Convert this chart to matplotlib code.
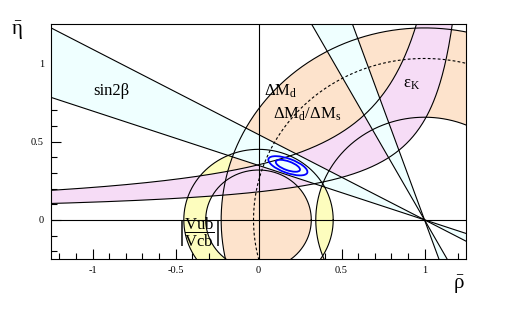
import numpy as np
import matplotlib
matplotlib.use("Agg")
import matplotlib.pyplot as plt
from matplotlib.patches import Wedge, Polygon, Ellipse

# ---------------- data ----------------
rho_range = [-1.25, 1.25]
eta_range = [-0.25, 1.25]
x_major = [-1, -0.5, 0, 0.5, 1]
x_labels = ["-1", "-0.5", "0", "0.5", "1"]
y_major = [0, 0.5, 1]
y_labels = ["0", "0.5", "1"]

sin2beta_band = [0.62, 0.84]          # sin(2 beta) interval
dmd_radii = [0.655, 1.225]            # Delta M_d band, circles around (1,0)
dmd_dms_radius = 1.03                 # Delta M_d / Delta M_s bound (dashed)
vub_radii = [0.318, 0.45]             # |Vub/Vcb| band, circles around (0,0)
epsk_lower = [1.335, 0.205, 0.025]    # eta = k/(a-rho)+c  : a, k, c
epsk_upper = [1.305, 0.435, 0.018]

contour_center = [0.177, 0.345]
contour_axes_95 = [0.25, 0.09]        # full widths (rho-eta units)
contour_axes_68 = [0.155, 0.056]
contour_angle = -21.0

# ---------------- colours ----------------
c_cyan = "#EFFFFF"
c_pink = "#F6DCF6"
c_peach = "#FDE3CC"
c_yellow = "#FDFDBE"

plt.rcParams["mathtext.fontset"] = "custom"
plt.rcParams["mathtext.rm"] = "Liberation Serif"
plt.rcParams["mathtext.it"] = "Liberation Serif:italic"
plt.rcParams["mathtext.bf"] = "Liberation Serif:bold"
serif = ["Liberation Serif", "DejaVu Serif"]

fig = plt.figure(figsize=(5.15, 3.10), dpi=100)
ax = fig.add_axes([51/515, 51/310, 415/515, 235/310])
ax.set_xlim(*rho_range)
ax.set_ylim(*eta_range)

lw = 0.8

# yellow |Vub/Vcb| annulus
ax.add_patch(Wedge((0, 0), vub_radii[1], 0, 360, width=vub_radii[1]-vub_radii[0],
                   facecolor=c_yellow, edgecolor="none", zorder=1))
# peach Delta M_d annulus
dmd_patch = Wedge((1, 0), dmd_radii[1], 0, 360, width=dmd_radii[1]-dmd_radii[0],
                  facecolor=c_peach, edgecolor="none", zorder=2)
ax.add_patch(dmd_patch)
# white overlap on the lower right
wp = Wedge((0, 0), vub_radii[1], -70, 45, width=vub_radii[1]-vub_radii[0],
           facecolor="white", edgecolor="none", zorder=3)
ax.add_patch(wp)
wp.set_clip_path(dmd_patch)

# epsilon_K band
def ek(p, r):
    a, k, c = p
    return k/(a-r)+c
def ek_inv(p, e):
    a, k, c = p
    return a - k/(e-c)
top = 1.6
ru = np.linspace(-1.4, ek_inv(epsk_upper, top), 400)
rl = np.linspace(-1.4, ek_inv(epsk_lower, top), 400)
poly = np.vstack([np.column_stack([ru, ek(epsk_upper, ru)]),
                  np.column_stack([rl[::-1], ek(epsk_lower, rl[::-1])])])
ax.add_patch(Polygon(poly, closed=True, facecolor=c_pink, edgecolor="none", zorder=4))
ax.plot(ru, ek(epsk_upper, ru), color="black", lw=lw, zorder=6)
ax.plot(rl, ek(epsk_lower, rl), color="black", lw=lw, zorder=6)

# sin 2beta wedges through (1,0)
betas = [0.5*np.arcsin(s) for s in sin2beta_band]
L = 6.0
slope_sets = [[np.tan(b) for b in betas], [1/np.tan(b) for b in betas]]
for t1, t2 in slope_sets:
    for sgn in (-1, 1):
        pts = [(1, 0), (1+sgn*L, -sgn*L*t1), (1+sgn*L, -sgn*L*t2)]
        ax.add_patch(Polygon(pts, closed=True, facecolor=c_cyan, edgecolor="none", zorder=5))
    for t in (t1, t2):
        ax.plot([1-L, 1+L], [L*t, -L*t], color="black", lw=lw, zorder=6)

# circles
th = np.linspace(0, 2*np.pi, 721)
for r in dmd_radii:
    ax.plot(1+r*np.cos(th), r*np.sin(th), color="black", lw=lw, zorder=6)
for r in vub_radii:
    ax.plot(r*np.cos(th), r*np.sin(th), color="black", lw=lw, zorder=6)
ax.plot(1+dmd_dms_radius*np.cos(th), dmd_dms_radius*np.sin(th), color="black",
        lw=lw, ls=(0, (2.5, 2)), zorder=6)

ax.axhline(0, color="black", lw=lw, zorder=6)
ax.axvline(0, color="black", lw=lw, zorder=6)

# probability contours
for w, h in (contour_axes_95, contour_axes_68):
    ax.add_patch(Ellipse(contour_center, w, h, angle=contour_angle, fill=False,
                         edgecolor="#0000FF", lw=1.3, zorder=7))

# labels
fs = 12
ax.text(-0.995, 0.795, "sin2β", family=serif, fontsize=fs, zorder=8)
ax.text(0.034, 0.795, r"$\mathrm{ΔM}_\mathrm{d}$", fontsize=fs, zorder=8)
ax.text(0.085, 0.647, r"$\mathrm{ΔM}_\mathrm{d}/\mathrm{ΔM}_\mathrm{s}$", fontsize=fs, zorder=8)
ax.text(0.87, 0.843, r"$\mathrm{ε}_\mathrm{K}$", fontsize=fs, zorder=8)
ax.text(-0.356, -0.08, r"$\left|\dfrac{\mathrm{Vub}}{\mathrm{Vcb}}\right|$", fontsize=12,
        ha="center", va="center", zorder=8)

fig.text(17/515, 1-31/310, r"$\bar{\mathrm{η}}$", fontsize=15, ha="center", va="center")
fig.text(459/515, 1-285/310, r"$\bar{\mathrm{ρ}}$", fontsize=15, ha="center", va="center")

# ticks
ax.set_xticks(x_major)
ax.set_xticklabels(x_labels, family=serif, fontsize=7.5)
ax.set_yticks(y_major)
ax.set_yticklabels(y_labels, family=serif, fontsize=7.5)
ax.set_xticks(np.arange(-1.2, 1.25, 0.1), minor=True)
ax.set_yticks(np.arange(-0.2, 1.25, 0.1), minor=True)
ax.tick_params(which="both", direction="in", top=False, right=False, width=0.8)
ax.tick_params(which="major", length=7, pad=5)
ax.tick_params(which="minor", length=4)
for s in ax.spines.values():
    s.set_linewidth(lw)
    s.set_zorder(9)

fig.savefig("out.png", dpi=100)
